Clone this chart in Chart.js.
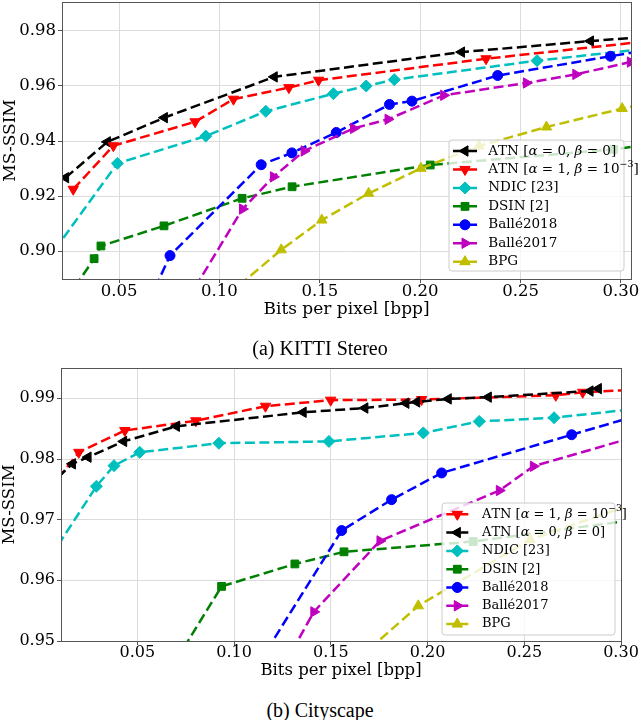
<!DOCTYPE html>
<html><head><meta charset="utf-8">
<script src="https://cdn.jsdelivr.net/npm/chart.js@4.4.1/dist/chart.umd.min.js"></script>
<style>
html,body{margin:0;padding:0;background:#fff;}
body{width:640px;height:720px;position:relative;overflow:hidden;}
.box{position:absolute;left:0;width:640px;}
.cap{position:absolute;left:0;width:640px;text-align:center;font-family:'Liberation Serif','Times New Roman',serif;font-size:20px;line-height:24px;color:#000;}
</style></head><body>
<div class="box" style="top:0;height:320px"><canvas id="c1"></canvas></div>
<div class="box" style="top:340px;height:345px"><canvas id="c2"></canvas></div>
<div class="cap" style="top:336px">(a) KITTI Stereo</div>
<div class="cap" style="top:698px">(b) Cityscape</div>
<script>
// ---------- (a) KITTI Stereo ----------
const kXTicks = [0.05, 0.10, 0.15, 0.20, 0.25, 0.30];
const kYTicks = [0.90, 0.92, 0.94, 0.96, 0.98];
const kAtn0X = [0.0234, 0.0442, 0.0726, 0.1273, 0.2206, 0.2848, 0.31];
const kAtn0Y = [0.9267, 0.9397, 0.9485, 0.9633, 0.9723, 0.9763, 0.9777];
const kAtn1X = [0.0272, 0.0472, 0.0879, 0.1070, 0.1346, 0.1494, 0.2328, 0.31];
const kAtn1Y = [0.9225, 0.9383, 0.9470, 0.9552, 0.9594, 0.9621, 0.9699, 0.9760];
const kNdicX = [0.018, 0.0492, 0.0932, 0.1231, 0.1568, 0.1731, 0.1871, 0.2582, 0.31];
const kNdicY = [0.9005, 0.9319, 0.9418, 0.9508, 0.9572, 0.9600, 0.9623, 0.9692, 0.9733];
const kDsinX = [0.028, 0.0376, 0.0410, 0.0724, 0.1113, 0.1362, 0.2050, 0.2964, 0.31];
const kDsinY = [0.8870, 0.8973, 0.9019, 0.9092, 0.9192, 0.9234, 0.9313, 0.9370, 0.9383];
const kB18X = [0.068, 0.0754, 0.1208, 0.1361, 0.1582, 0.1847, 0.1959, 0.2386, 0.2948, 0.31];
const kB18Y = [0.8867, 0.8984, 0.9314, 0.9357, 0.9431, 0.9533, 0.9545, 0.9638, 0.9708, 0.9727];
const kB17X = [0.088, 0.1115, 0.1269, 0.1422, 0.1668, 0.1840, 0.2117, 0.2529, 0.2775, 0.3047];
const kB17Y = [0.8870, 0.9153, 0.9270, 0.9364, 0.9446, 0.9479, 0.9566, 0.9611, 0.9642, 0.9687];
const kBpgX = [0.110, 0.1308, 0.1510, 0.1743, 0.2004, 0.2293, 0.2629, 0.3006, 0.31];
const kBpgY = [0.8877, 0.9005, 0.9113, 0.9210, 0.9301, 0.9382, 0.9451, 0.9518, 0.9533];

// ---------- (b) Cityscape ----------
const cXTicks = [0.05, 0.10, 0.15, 0.20, 0.25, 0.30];
const cYTicks = [0.95, 0.96, 0.97, 0.98, 0.99];
const cAtn1X = [0.009, 0.0197, 0.0435, 0.0802, 0.1162, 0.1499, 0.1969, 0.2663, 0.2802, 0.31];
const cAtn1Y = [0.9768, 0.9811, 0.9847, 0.9863, 0.9887, 0.9897, 0.9898, 0.9905, 0.9910, 0.99145];
const cAtn0X = [0.009, 0.0164, 0.0245, 0.0429, 0.0702, 0.1357, 0.1676, 0.1888, 0.1944, 0.2107, 0.2314, 0.2840, 0.2883];
const cAtn0Y = [0.9770, 0.9792, 0.9803, 0.9829, 0.9854, 0.9877, 0.9884, 0.9892, 0.9894, 0.9899, 0.9902, 0.9912, 0.9916];
const cNdicX = [0.009, 0.0288, 0.0379, 0.0512, 0.0921, 0.1490, 0.1978, 0.2267, 0.2654, 0.31];
const cNdicY = [0.9658, 0.9755, 0.9789, 0.9811, 0.9826, 0.9829, 0.9843, 0.9862, 0.9868, 0.98835];
const cDsinX = [0.074, 0.0935, 0.1314, 0.1568, 0.2236, 0.31];
const cDsinY = [0.9489, 0.9590, 0.9627, 0.9647, 0.9664, 0.9701];
const cB18X = [0.117, 0.1556, 0.1814, 0.2073, 0.2745, 0.31];
const cB18Y = [0.9485, 0.9682, 0.9733, 0.9777, 0.9840, 0.9873];
const cB17X = [0.130, 0.1412, 0.1754, 0.2371, 0.2547, 0.31];
const cB17Y = [0.9484, 0.9548, 0.9665, 0.9748, 0.9788, 0.9839];
const cBpgX = [0.170, 0.1952, 0.2530, 0.31];
const cBpgY = [0.9487, 0.9558, 0.9667, 0.9730];

const LBL_ATN0 = 'ATN [α = 0, β = 0]';
const LBL_ATN1 = 'ATN [α = 1, β = 10⁻³]';

const STY = {
  atn0: {color:'#000000', style:'triangle', rot:-90, r:6},
  atn1: {color:'#ff0000', style:'triangle', rot:180, r:6},
  ndic: {color:'#00bfbf', style:'rectRot', rot:0, r:6},
  dsin: {color:'#008000', style:'rect', rot:0, r:5.5},
  b18:  {color:'#0000ff', style:'circle', rot:0, r:5},
  b17:  {color:'#bf00bf', style:'triangle', rot:90, r:6},
  bpg:  {color:'#bfbf00', style:'triangle', rot:0, r:6}
};

Chart.defaults.font.family = "'DejaVu Serif', serif";
Chart.defaults.color = '#000';

function pts(xs, ys) { return xs.map((x, i) => ({x: x, y: ys[i]})); }

function mkDs(label, xs, ys, st, rng, i) {
  const inR = p => p && p.x >= rng.x0 && p.x <= rng.x1 && p.y >= rng.y0 && p.y <= rng.y1;
  return {
    label: label, data: pts(xs, ys), order: -i,
    borderColor: st.color, backgroundColor: st.color, borderWidth: 2.5,
    borderDash: [10, 4.5], fill: false, tension: 0, clip: 0,
    pointStyle: st.style, rotation: st.rot,
    pointRadius: c => inR(c.raw) ? st.r : 0,
    pointBorderWidth: 1, pointBorderColor: st.color, pointBackgroundColor: st.color
  };
}

function drawRich(ctx, text, x, y, size) {
  let cx = x;
  ctx.textBaseline = 'middle';
  ctx.textAlign = 'left';
  for (const ch of text) {
    let t = ch, f = size + "px 'DejaVu Serif'", dy = 0;
    if (ch === 'α' || ch === 'β') f = "italic " + size + "px 'DejaVu Serif'";
    else if (ch === '⁻' || ch === '³') {
      t = ch === '⁻' ? '−' : '3';
      f = (size * 0.7) + "px 'DejaVu Serif'";
      dy = -size * 0.4;
    }
    ctx.font = f;
    ctx.fillText(t, cx, y + dy);
    cx += ctx.measureText(t).width;
  }
}

const framePlugin = {
  id: 'frame',
  afterDatasetsDraw(chart) {
    const a = chart.chartArea, ctx = chart.ctx;
    ctx.save();
    ctx.strokeStyle = '#555';
    ctx.lineWidth = 1;
    ctx.strokeRect(Math.round(a.left) + 0.5, Math.round(a.top) + 0.5,
                   Math.round(a.right) - Math.round(a.left), Math.round(a.bottom) - Math.round(a.top));
    ctx.restore();
  }
};

const legendPlugin = {
  id: 'boxLegend',
  afterDatasetsDraw(chart, args, L) {
    if (!L || !L.rows) return;
    const ctx = chart.ctx, a = chart.chartArea;
    const x0 = a.right - L.offRight - L.width, y0 = a.bottom - L.offBottom - L.height;
    ctx.save();
    const r = 3;
    ctx.beginPath();
    ctx.moveTo(x0 + r, y0);
    ctx.arcTo(x0 + L.width, y0, x0 + L.width, y0 + L.height, r);
    ctx.arcTo(x0 + L.width, y0 + L.height, x0, y0 + L.height, r);
    ctx.arcTo(x0, y0 + L.height, x0, y0, r);
    ctx.arcTo(x0, y0, x0 + L.width, y0, r);
    ctx.closePath();
    ctx.fillStyle = 'rgba(255,255,255,0.8)';
    ctx.fill();
    ctx.strokeStyle = '#cccccc';
    ctx.lineWidth = 1;
    ctx.stroke();
    L.rows.forEach((idx, i) => {
      const ds = chart.data.datasets[idx];
      const y = y0 + L.firstRow + i * L.rowH;
      ctx.setLineDash(ds.borderDash);
      ctx.strokeStyle = ds.borderColor;
      ctx.lineWidth = ds.borderWidth;
      ctx.beginPath();
      ctx.moveTo(x0 + L.h0, y);
      ctx.lineTo(x0 + L.h1, y);
      ctx.stroke();
      ctx.setLineDash([]);
      ctx.fillStyle = ds.borderColor;
      ctx.lineWidth = 1;
      const st = L.styles[idx];
      Chart.helpers.drawPoint(ctx, {pointStyle: st.style, rotation: st.rot, radius: st.r, borderWidth: 1}, x0 + (L.h0 + L.h1) / 2, y);
      ctx.fill();
      ctx.fillStyle = '#000';
      drawRich(ctx, ds.label, x0 + L.tx, y, L.font);
    });
    ctx.restore();
  }
};

function makeChart(id, c) {
  return new Chart(document.getElementById(id), {
    type: 'line',
    data: { datasets: c.series.map((s, i) => mkDs(s[0], s[1], s[2], s[3], c.rng, i)) },
    options: {
      responsive: true, maintainAspectRatio: false, animation: false, events: [],
      layout: { padding: c.padding, autoPadding: false },
      plugins: {
        legend: {display: false}, tooltip: {enabled: false},
        boxLegend: Object.assign({styles: c.series.map(s => s[3])}, c.legend)
      },
      scales: {
        x: {
          type: 'linear', min: c.rng.x0, max: c.rng.x1,
          afterBuildTicks: s => { s.ticks = c.xTicks.map(v => ({value: v})); },
          afterFit: s => { s.height = c.xH; s.paddingLeft = 0; s.paddingRight = 0; },
          grid: {color: '#dcdcdc', lineWidth: 1, drawTicks: true, tickLength: 4, tickColor: '#555', tickWidth: 1},
          border: {display: false},
          ticks: {callback: v => v.toFixed(2), font: {size: c.tick, lineHeight: 1}, color: '#000', padding: c.xTickPad, maxRotation: 0, autoSkip: false},
          title: {display: true, text: 'Bits per pixel [bpp]', font: {size: c.title, lineHeight: 1.2}, color: '#000', padding: {top: 0, bottom: c.xTitlePad}}
        },
        y: {
          type: 'linear', min: c.rng.y0, max: c.rng.y1,
          afterBuildTicks: s => { s.ticks = c.yTicks.map(v => ({value: v})); },
          afterFit: s => { s.width = c.yW; s.paddingTop = 0; s.paddingBottom = 0; },
          grid: {color: '#dcdcdc', lineWidth: 1, drawTicks: true, tickLength: 4, tickColor: '#555', tickWidth: 1},
          border: {display: false},
          ticks: {callback: v => v.toFixed(2), font: {size: c.tick, lineHeight: 1}, color: '#000', padding: 2, autoSkip: false},
          title: {display: true, text: 'MS-SSIM', font: {size: c.title, lineHeight: 1.2}, color: '#000', padding: {top: 0, bottom: 0}}
        }
      }
    },
    plugins: [framePlugin, legendPlugin]
  });
}

makeChart('c1', {
  rng: {x0: 0.0216, x1: 0.305, y0: 0.8899, y1: 0.9905},
  xTicks: kXTicks, yTicks: kYTicks,
  padding: {left: 0, top: 2, right: 9, bottom: 0},
  xH: 41, yW: 62, tick: 16.5, title: 17, xTickPad: 0, xTitlePad: 0,
  series: [
    [LBL_ATN0, kAtn0X, kAtn0Y, STY.atn0],
    [LBL_ATN1, kAtn1X, kAtn1Y, STY.atn1],
    ['NDIC [23]', kNdicX, kNdicY, STY.ndic],
    ['DSIN [2]', kDsinX, kDsinY, STY.dsin],
    ['Ballé2018', kB18X, kB18Y, STY.b18],
    ['Ballé2017', kB17X, kB17Y, STY.b17],
    ['BPG', kBpgX, kBpgY, STY.bpg]
  ],
  legend: {rows: [0,1,2,3,4,5,6], offRight: 7, offBottom: 8, width: 175, height: 131,
           firstRow: 11, rowH: 18.45, h0: 4, h1: 28, tx: 39.3, font: 13.5}
});

makeChart('c2', {
  rng: {x0: 0.0105, x1: 0.30, y0: 0.95, y1: 0.995},
  xTicks: cXTicks, yTicks: cYTicks,
  padding: {left: 0, top: 28, right: 19, bottom: 0},
  xH: 44, yW: 61, tick: 16, title: 16.5, xTickPad: 0, xTitlePad: 4,
  series: [
    [LBL_ATN1, cAtn1X, cAtn1Y, STY.atn1],
    [LBL_ATN0, cAtn0X, cAtn0Y, STY.atn0],
    ['NDIC [23]', cNdicX, cNdicY, STY.ndic],
    ['DSIN [2]', cDsinX, cDsinY, STY.dsin],
    ['Ballé2018', cB18X, cB18Y, STY.b18],
    ['Ballé2017', cB17X, cB17Y, STY.b17],
    ['BPG', cBpgX, cBpgY, STY.bpg]
  ],
  legend: {rows: [0,1,2,3,4,5,6], offRight: 6, offBottom: 6, width: 173, height: 132,
           firstRow: 11.3, rowH: 18.3, h0: 4.3, h1: 26.3, tx: 40, font: 13}
});
</script>
</body></html>
